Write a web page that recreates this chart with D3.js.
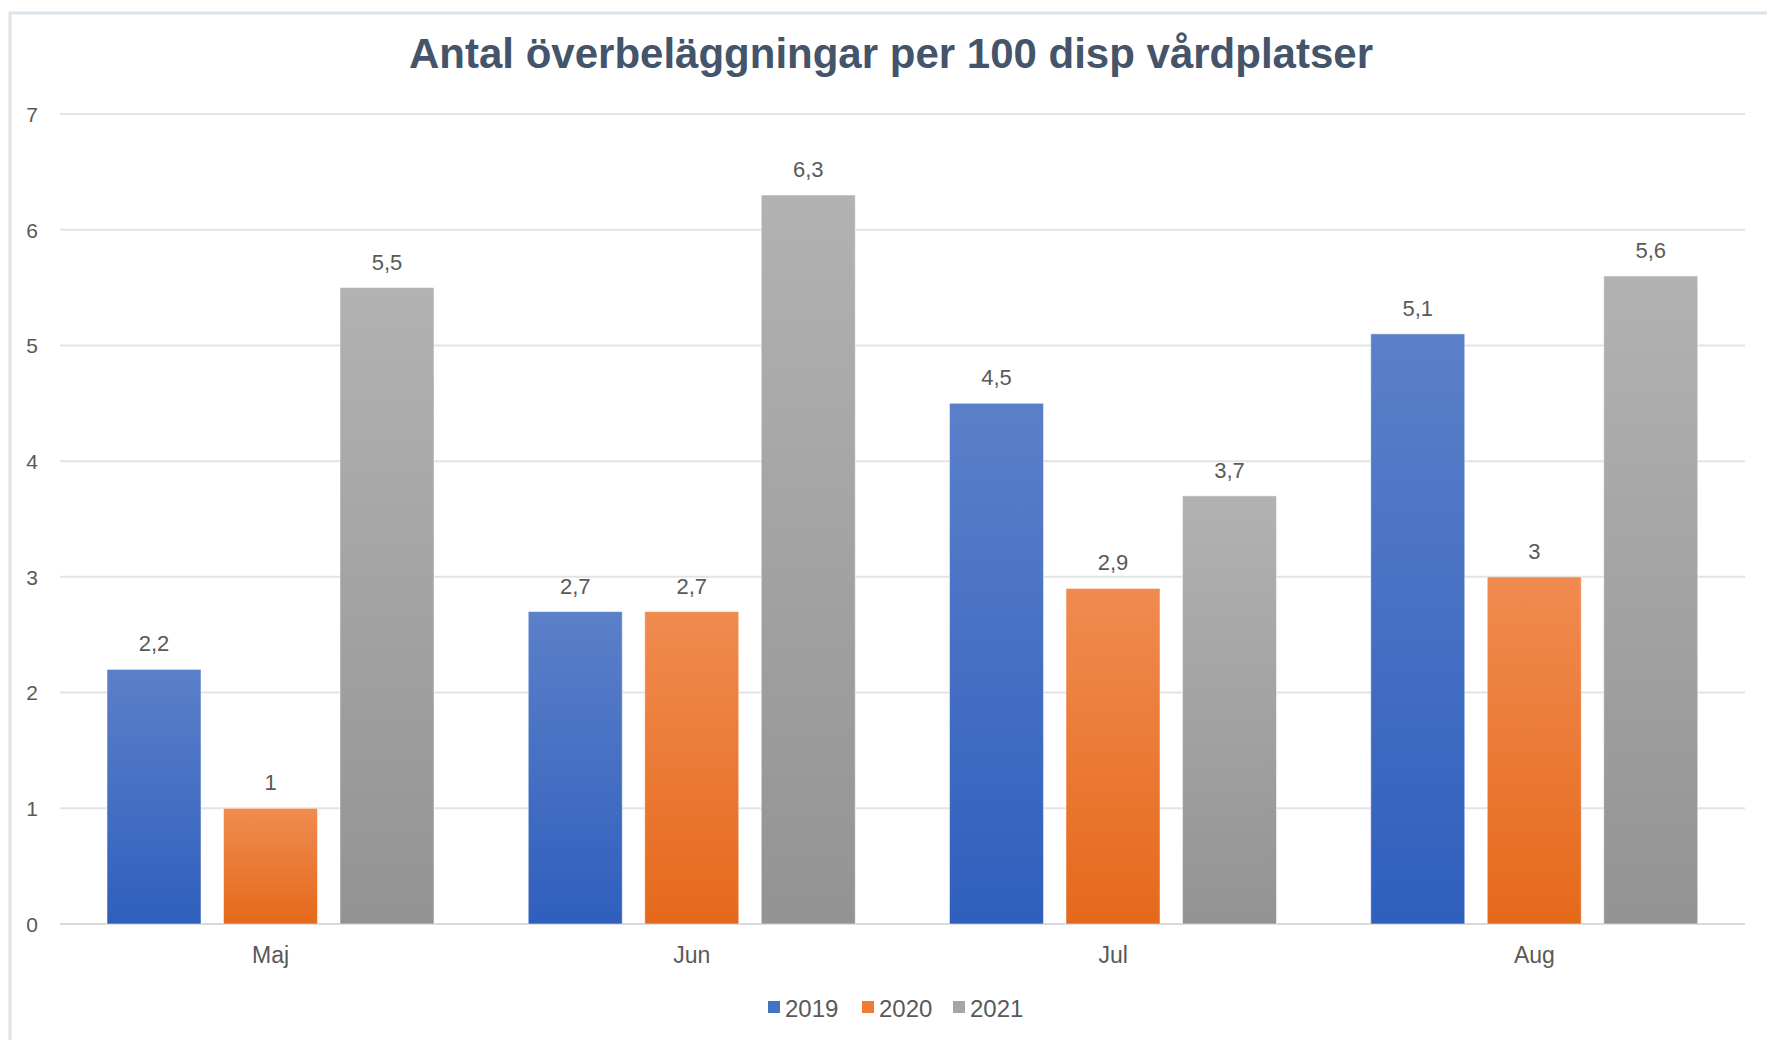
<!DOCTYPE html>
<head>
  <meta charset="utf-8">
  <style>
    body { margin: 0; background: #fff; }
    svg text { font-family: "Liberation Sans", Arial, sans-serif; fill: #595959; }
    svg .title { font-size: 42px; font-weight: bold; fill: #44546a; }
  </style>
</head>
<body>
<script src="https://cdnjs.cloudflare.com/ajax/libs/d3/7.8.5/d3.min.js"></script>
<script>
  // data
  var categories = ["Maj", "Jun", "Jul", "Aug"];
  var years = ["2019", "2020", "2021"];
  var values2019 = [2.2, 2.7, 4.5, 5.1];
  var values2020 = [1, 2.7, 2.9, 3];
  var values2021 = [5.5, 6.3, 3.7, 5.6];
  var yTicks = [0, 1, 2, 3, 4, 5, 6, 7];

  var series = [values2019, values2020, values2021];
  var colors = [
    { top: "#5b80c9", bottom: "#2f5fbd", key: "#4472c4" },
    { top: "#f08b50", bottom: "#e5691b", key: "#ed7d31" },
    { top: "#b2b2b2", bottom: "#939393", key: "#a5a5a5" }
  ];

  var width = 1767, height = 1040;
  var plotLeft = 60, plotRight = 1745, plotTop = 114, plotBottom = 924;

  var svg = d3.select("body").append("svg")
      .attr("width", width)
      .attr("height", height);

  // gradients for bars
  var defs = svg.append("defs");
  colors.forEach(function (c, i) {
    var g = defs.append("linearGradient")
        .attr("id", "grad" + i)
        .attr("x1", 0).attr("y1", 0).attr("x2", 0).attr("y2", 1);
    g.append("stop").attr("offset", "0%").attr("stop-color", c.top);
    g.append("stop").attr("offset", "100%").attr("stop-color", c.bottom);
  });

  // chart frame (left + top edge)
  svg.append("path")
      .attr("d", "M10,1040 V13 H1767")
      .style("fill", "none")
      .style("stroke", "#dde3ea")
      .style("stroke-width", "3px");

  var x0 = d3.scaleBand().domain(categories).range([plotLeft, plotRight]);
  var x1 = d3.scaleBand().domain(years).range([47, 374]).paddingInner(0.193);
  var y = d3.scaleLinear().domain([0, 7]).range([plotBottom, plotTop]);

  // horizontal grid
  svg.append("g")
      .classed("grid", true)
    .selectAll("line")
    .data(yTicks)
    .enter().append("line")
      .attr("x1", plotLeft)
      .attr("x2", plotRight)
      .attr("y1", function (d) { return y(d); })
      .attr("y2", function (d) { return y(d); })
      .style("stroke", function (d) { return d === 0 ? "#d9d9d9" : "#e3e3e3"; })
      .style("stroke-width", "2px");

  // y axis labels
  var yAxis = d3.axisLeft(y)
      .tickValues(yTicks)
      .tickFormat(d3.format("d"))
      .tickSize(0)
      .tickPadding(0);
  var ya = svg.append("g")
      .attr("transform", "translate(38,0)")
      .call(yAxis);
  ya.select(".domain").remove();
  ya.selectAll("text")
      .style("font-size", "21px")
      .style("font-family", "'Liberation Sans', Arial, sans-serif")
      .style("fill", "#595959")
      .attr("dy", "0.35em");

  // x axis labels
  var xAxis = d3.axisBottom(x0).tickSize(0).tickPadding(0);
  var xa = svg.append("g")
      .attr("transform", "translate(0,963)")
      .call(xAxis);
  xa.select(".domain").remove();
  xa.selectAll("text")
      .style("font-size", "23px")
      .style("font-family", "'Liberation Sans', Arial, sans-serif")
      .style("fill", "#595959")
      .attr("dy", 0);

  // bars
  var groups = svg.selectAll("g.cat")
    .data(categories)
    .enter().append("g")
      .classed("cat", true)
      .attr("transform", function (d) { return "translate(" + x0(d) + ",0)"; });

  years.forEach(function (yr, si) {
    groups.append("rect")
        .attr("x", x1(yr))
        .attr("width", x1.bandwidth())
        .attr("y", function (d, i) { return y(series[si][i]); })
        .attr("height", function (d, i) { return plotBottom - y(series[si][i]); })
        .style("fill", "url(#grad" + si + ")")
        .style("stroke", "rgba(255,255,255,0.5)")
        .style("stroke-width", "1px");

    groups.append("text")
        .attr("x", x1(yr) + x1.bandwidth() / 2)
        .attr("y", function (d, i) { return y(series[si][i]) - 18; })
        .text(function (d, i) { return String(series[si][i]).replace(".", ","); })
        .style("text-anchor", "middle")
        .style("font-size", "22px");
  });

  // title
  svg.append("text")
      .classed("title", true)
      .attr("x", 891)
      .attr("y", 68)
      .style("text-anchor", "middle")
      .text("Antal överbeläggningar per 100 disp vårdplatser");

  // legend
  var legendX = [768, 862, 953];
  var legend = svg.selectAll("g.legend")
    .data(years)
    .enter().append("g")
      .classed("legend", true)
      .attr("transform", function (d, i) { return "translate(" + legendX[i] + ",1001)"; });
  legend.append("rect")
      .attr("width", 12)
      .attr("height", 12)
      .style("fill", function (d, i) { return colors[i].key; });
  legend.append("text")
      .attr("x", 17)
      .attr("y", 16)
      .text(function (d) { return d; })
      .style("font-size", "24px");
</script>
</body>
</html>
